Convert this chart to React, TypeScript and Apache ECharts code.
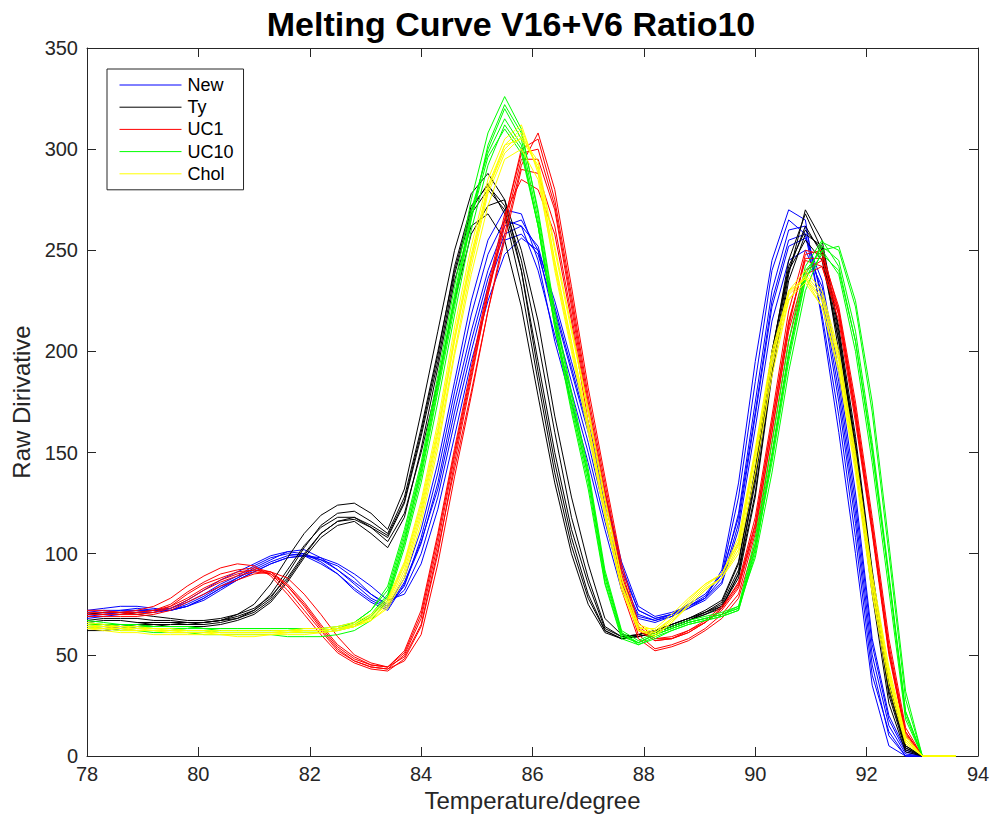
import React, { useEffect, useRef } from "react";
import * as echarts from "echarts";

const temps = [
  78, 78.3, 78.6, 78.9, 79.2, 79.5, 79.8, 80.1, 80.4, 80.7,
  81, 81.3, 81.6, 81.9, 82.2, 82.5, 82.8, 83.1, 83.4, 83.7,
  84, 84.3, 84.6, 84.9, 85.2, 85.5, 85.8, 86.1, 86.4, 86.7,
  87, 87.3, 87.6, 87.9, 88.2, 88.5, 88.8, 89.1, 89.4, 89.7,
  90, 90.3, 90.6, 90.9, 91.2, 91.5, 91.8, 92.1, 92.4, 92.7,
  93, 93.3, 93.6,
];

const newLines = [
  [70,71,72,72,72,73,76,80,85,89,94,98,100,99,95,90,82,76,72,85,105,135,175,210,240,262,265,250,215,185,155,120,88,70,67,70,74,78,88,120,175,230,260,262,225,175,115,45,10,0,0,0,0],
  [72,73,74,74,73,72,74,78,83,88,93,97,101,102,98,92,85,78,74,88,112,145,185,225,255,270,268,245,205,175,145,112,82,68,66,69,73,78,92,135,195,245,270,265,215,160,100,35,5,0,0,0,0],
  [68,69,70,71,71,72,75,79,84,88,92,96,99,100,97,92,86,80,75,82,100,128,165,200,232,255,258,248,220,190,160,125,92,72,68,70,73,77,85,112,162,215,245,250,232,185,125,55,18,2,0,0,0],
  [71,72,72,73,72,72,74,77,82,87,91,95,98,99,97,94,88,80,74,84,108,140,180,218,248,265,262,240,208,180,150,116,85,69,67,69,74,79,90,128,185,240,265,258,218,168,108,40,12,0,0,0,0],
  [69,70,71,71,72,73,77,82,87,91,95,99,101,100,96,90,83,77,73,86,106,132,170,205,236,258,262,252,222,192,162,128,94,72,68,70,75,80,90,118,170,225,255,258,228,180,120,50,15,1,0,0,0],
  [70,70,71,72,72,72,74,78,83,87,91,95,98,99,98,95,90,84,77,80,95,122,158,195,225,248,256,250,225,195,165,130,96,74,69,71,74,78,86,115,168,222,252,256,235,190,130,58,20,3,0,0,0],
];

const tyLines = [
  [66,67,67,66,66,66,65,65,66,68,72,80,92,104,113,118,118,113,108,125,158,195,238,268,280,270,240,195,150,112,85,63,59,60,62,65,68,71,75,92,135,195,240,262,248,205,150,85,30,3,0,0,0],
  [62,62,63,64,65,65,65,66,67,70,75,85,98,110,119,124,125,120,112,132,170,210,250,278,288,275,240,190,145,108,80,62,58,59,61,64,67,70,74,90,130,190,238,270,255,210,152,88,32,4,0,0,0],
  [70,71,71,70,69,68,67,67,68,70,73,79,88,100,110,116,117,113,106,120,150,185,225,258,272,275,250,215,168,128,95,68,60,59,61,64,67,71,76,95,140,200,242,260,250,208,155,90,35,5,0,0,0],
  [64,64,65,65,65,64,64,64,65,67,70,76,86,98,108,114,116,110,103,118,152,192,235,262,268,255,222,178,135,100,75,61,58,60,62,65,68,71,74,88,128,188,235,258,252,212,158,92,36,5,0,0,0],
  [67,68,68,68,67,67,66,66,67,69,72,78,90,103,114,120,121,116,110,128,162,200,240,270,283,268,232,185,140,104,78,62,58,59,61,64,67,70,73,90,138,198,245,268,250,200,145,80,26,2,0,0,0],
  [63,63,64,65,66,66,66,66,67,68,71,77,87,99,110,116,118,114,109,126,160,198,242,272,282,272,245,205,160,118,88,64,59,60,62,65,68,72,77,96,142,200,240,255,245,205,152,88,34,4,0,0,0],
];

const uc1Lines = [
  [70,70,70,70,71,74,80,85,88,91,92,90,82,72,62,52,47,44,43,50,68,105,148,188,228,262,295,295,270,222,172,130,88,62,57,58,62,67,74,85,115,165,215,245,242,215,165,110,50,10,0,0,0],
  [71,71,71,72,74,78,84,89,93,95,94,89,80,70,60,51,46,43,42,48,64,100,145,186,228,265,300,305,275,228,178,135,92,64,58,59,62,66,72,83,112,160,212,248,250,220,170,112,52,12,0,0,0],
  [69,69,69,69,70,72,76,80,84,87,90,91,88,80,70,59,50,46,44,49,65,102,142,180,220,255,290,288,262,218,170,128,86,60,53,55,58,63,70,80,110,160,210,240,245,220,172,115,55,12,0,0,0],
  [70,70,70,71,72,75,81,86,90,92,93,91,84,74,63,53,47,44,43,47,60,95,138,178,220,258,292,308,280,232,182,138,95,66,58,58,61,66,73,86,118,168,220,250,248,222,175,118,58,14,0,0,0],
  [72,72,71,71,72,74,78,83,87,90,92,91,85,76,65,55,49,45,44,52,72,110,152,192,232,268,285,280,258,215,165,122,82,58,52,54,57,62,68,78,105,155,205,238,242,218,168,112,52,10,0,0,0],
  [70,70,70,70,71,73,77,82,86,89,91,90,84,75,64,54,48,45,44,51,70,108,150,190,230,265,298,300,272,225,175,132,90,63,57,58,61,66,73,84,114,164,214,246,246,218,168,112,52,11,0,0,0],
];

const uc10Lines = [
  [65,64,64,63,63,63,63,63,62,62,62,62,62,62,62,63,65,70,80,108,140,182,225,268,300,320,305,265,215,175,138,88,60,56,60,63,66,68,70,73,105,150,200,238,252,245,210,155,90,22,0,0,0],
  [67,66,65,65,64,64,64,63,63,63,63,63,63,63,63,64,66,72,84,112,145,188,232,275,308,326,310,268,218,178,140,90,61,55,59,62,65,67,69,72,102,145,195,235,254,250,222,170,100,28,0,0,0],
  [64,63,62,62,61,61,61,60,60,60,60,60,59,59,59,60,62,67,77,103,135,175,218,260,292,312,300,262,212,170,132,85,58,55,58,62,65,67,69,72,100,148,198,240,250,238,200,145,82,18,0,0,0],
  [66,65,65,64,64,64,64,63,63,63,63,63,63,62,62,63,64,69,79,105,138,180,222,265,302,322,308,270,220,180,142,92,62,57,61,64,67,69,71,74,98,140,190,230,250,252,225,175,105,32,0,0,0],
  [63,63,63,62,62,62,62,62,61,61,61,61,61,61,61,62,64,69,78,106,142,185,228,270,298,315,302,262,212,172,135,86,59,56,60,63,66,68,70,74,108,155,205,242,255,242,205,150,88,20,0,0,0],
  [65,65,64,64,63,63,62,62,62,62,62,62,62,62,62,63,66,72,82,110,143,184,226,266,296,310,298,262,214,174,138,90,61,56,60,63,66,68,70,73,103,148,198,236,248,240,205,152,88,22,0,0,0],
];

const cholLines = [
  [64,63,63,62,62,61,61,61,61,61,61,61,62,62,62,63,65,68,75,92,120,158,205,245,280,300,308,290,245,205,165,122,85,63,63,70,78,85,90,105,148,195,228,236,225,195,145,85,40,8,0,0,0],
  [66,65,64,64,63,63,62,62,62,62,62,62,62,63,63,64,66,70,78,96,126,165,212,252,285,305,312,288,240,200,160,118,82,62,60,66,74,82,88,100,140,188,225,238,228,198,148,88,42,9,0,0,0],
  [63,62,61,61,60,60,60,60,60,59,59,60,60,60,61,62,64,67,73,88,115,152,198,238,272,295,300,285,242,202,162,120,84,62,59,66,75,83,88,102,145,192,226,234,222,192,142,82,38,7,0,0,0],
  [65,64,64,63,63,62,62,62,61,61,61,61,61,62,62,63,65,69,77,95,124,162,208,248,282,302,305,292,250,210,170,126,88,65,62,68,76,84,90,108,152,200,230,236,222,190,140,80,35,6,0,0,0],
  [64,64,63,63,62,62,61,61,61,61,61,61,61,62,62,63,64,67,74,90,118,155,200,242,278,298,306,294,252,212,172,128,88,64,61,67,74,82,88,104,150,198,230,240,230,200,150,90,44,10,0,0,0],
  [63,63,62,62,62,61,61,61,60,60,60,60,61,61,61,62,64,68,76,94,122,160,206,246,280,302,310,290,244,204,164,121,84,62,61,68,77,85,90,106,150,196,229,237,226,196,146,86,40,8,0,0,0],
];

const groupNames = ["New", "Ty", "UC1", "UC10", "Chol"];
const groupColors = ["#0000ff", "#000000", "#ff0000", "#00ff00", "#ffff00"];

const FONT = "'Liberation Sans', Arial, Helvetica, sans-serif";
const AX = "#262626";

export default function App() {
  const ref = useRef<HTMLDivElement>(null);
  useEffect(() => {
    if (!ref.current) return;
    const chart = echarts.init(ref.current, null, { renderer: "svg" });
    const groups = [newLines, tyLines, uc1Lines, uc10Lines, cholLines];
    const series: any[] = [];
    groups.forEach((lines, g) => {
      lines.forEach((vals) => {
        series.push({
          type: "line",
          name: groupNames[g],
          data: vals.map((v, i) => [temps[i], v]),
          symbol: "none",
          showSymbol: false,
          clip: false,
          color: groupColors[g],
          lineStyle: { width: 1, color: groupColors[g] },
          itemStyle: { color: groupColors[g] },
          emphasis: { disabled: true },
          silent: true,
        });
      });
    });
    const axisCommon = {
      axisLine: { show: true, onZero: false, lineStyle: { color: AX, width: 1 } },
      axisTick: { show: true, inside: true, length: 9, lineStyle: { color: AX, width: 1 } },
      splitLine: { show: false },
    };
    chart.setOption({
      animation: false,
      backgroundColor: "#ffffff",
      title: {
        text: "Melting Curve V16+V6 Ratio10",
        left: 506,
        top: 2,
        textAlign: "center",
        textStyle: { fontSize: 34, fontWeight: "bold", color: "#000", fontFamily: FONT },
      },
      legend: {
        orient: "vertical",
        left: 107,
        top: 69,
        padding: [7, 10, 7, 12],
        itemWidth: 62,
        itemHeight: 14,
        itemGap: 4.2,
        borderColor: AX,
        borderWidth: 1,
        backgroundColor: "#ffffff",
        selectedMode: false,
        data: groupNames,
        itemStyle: { opacity: 0 },
        lineStyle: { width: 1 },
        textStyle: { fontSize: 18, color: "#000", fontFamily: FONT, padding: [0, 0, 0, 1] },
      },
      grid: { left: 87, right: 15, top: 48, bottom: 63, containLabel: false },
      xAxis: [
        {
          type: "value",
          min: 78,
          max: 94,
          interval: 2,
          position: "bottom",
          ...axisCommon,
          axisLabel: { fontSize: 20, color: AX, margin: 8, fontFamily: FONT },
          name: "Temperature/degree",
          nameLocation: "middle",
          nameGap: 32,
          nameTextStyle: { fontSize: 24, color: AX, fontFamily: FONT },
        },
        {
          type: "value",
          min: 78,
          max: 94,
          interval: 2,
          position: "top",
          ...axisCommon,
          axisLabel: { show: false },
        },
      ],
      yAxis: [
        {
          type: "value",
          min: 0,
          max: 350,
          interval: 50,
          position: "left",
          ...axisCommon,
          axisLabel: { fontSize: 20, color: AX, margin: 9, fontFamily: FONT },
          name: "Raw Dirivative",
          nameLocation: "middle",
          nameGap: 53,
          nameTextStyle: { fontSize: 24, color: AX, fontFamily: FONT },
        },
        {
          type: "value",
          min: 0,
          max: 350,
          interval: 50,
          position: "right",
          ...axisCommon,
          axisLabel: { show: false },
        },
      ],
      series,
    });
    return () => chart.dispose();
  }, []);
  return (
    <div
      ref={ref}
      style={{ position: "fixed", left: 0, top: 0, width: 993, height: 819, background: "#fff" }}
    />
  );
}
